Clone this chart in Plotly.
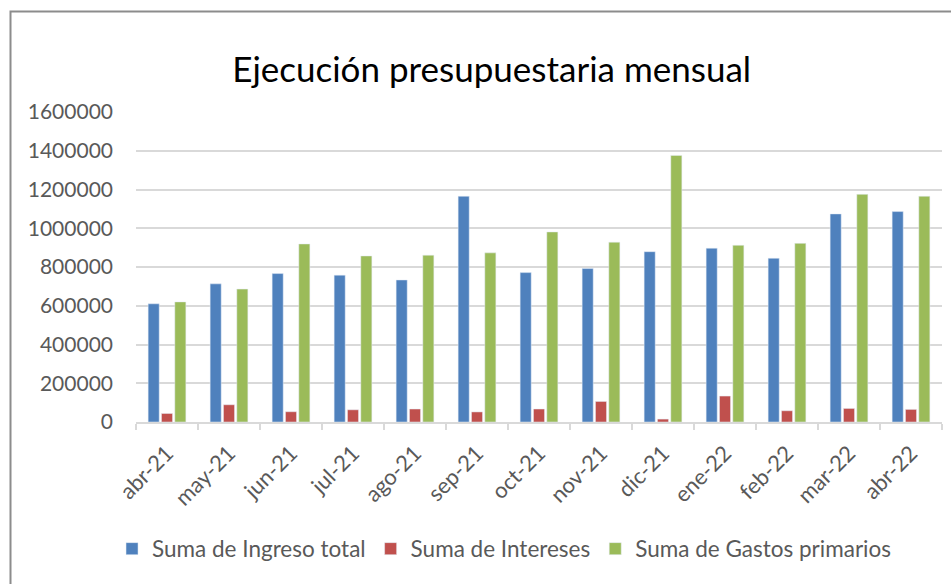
import plotly.graph_objects as go

months = ["abr-21", "may-21", "jun-21", "jul-21", "ago-21", "sep-21", "oct-21",
          "nov-21", "dic-21", "ene-22", "feb-22", "mar-22", "abr-22"]
ingreso_total = [610000, 713000, 766000, 758000, 733000, 1165000, 771000,
                 792000, 879000, 897000, 845000, 1074000, 1086000]
intereses = [44000, 89000, 53000, 63000, 67000, 52000, 67000,
             106000, 15000, 134000, 58000, 70000, 65000]
gastos_primarios = [620000, 686000, 919000, 857000, 861000, 873000, 981000,
                    928000, 1376000, 912000, 922000, 1175000, 1165000]
y_ticks = [0, 200000, 400000, 600000, 800000, 1000000, 1200000, 1400000, 1600000]

W, H = 951, 584
L, R, T, B = 136, 9, 112, 162
pw, ph = W - L - R, H - T - B

fig = go.Figure()
fig.add_trace(go.Bar(name="Suma de Ingreso total", x=months, y=ingreso_total,
                     marker_color="#4F81BD"))
fig.add_trace(go.Bar(name="Suma de Intereses", x=months, y=intereses,
                     marker_color="#C0504D"))
fig.add_trace(go.Bar(name="Suma de Gastos primarios", x=months, y=gastos_primarios,
                     marker_color="#9BBB59"))

font_family = "Lato, 'Open Sans', sans-serif"
fig.update_layout(
    width=W, height=H,
    margin=dict(l=L, r=R, t=T, b=B),
    paper_bgcolor="white", plot_bgcolor="white",
    barmode="group", bargap=0.355, bargroupgap=0.17,
    font=dict(family=font_family, color="#595959"),
    title=dict(text="Ejecución presupuestaria mensual", x=0.517, xref="container",
               xanchor="center", y=1 - 70 / H, yref="container", yanchor="middle",
               font=dict(size=35, color="#000000", family=font_family)),
    legend=dict(orientation="h", x=0.53, xanchor="center", xref="container",
                y=1 - 549 / H, yref="container", yanchor="middle",
                font=dict(size=22.5, color="#595959"), traceorder="normal"),
    xaxis=dict(showline=True, linecolor="#D9D9D9", linewidth=1.5,
               ticks="outside", tickson="boundaries", ticklen=6,
               tickcolor="#D9D9D9", tickwidth=1.5, tickangle=-45,
               tickfont=dict(size=22, color="#595959"), showgrid=False,
               ticklabelstandoff=8),
    yaxis=dict(range=[0, 1600000], tickvals=y_ticks,
               ticktext=[str(v) for v in y_ticks],
               showgrid=True, gridcolor="#D9D9D9", gridwidth=1.5,
               zeroline=False, showline=False,
               tickfont=dict(size=21, color="#595959"), ticklabelstandoff=22),
    shapes=[dict(type="rect", xref="paper", yref="paper",
                 x0=(10.5 - L) / pw, x1=(W + 20 - L) / pw,
                 y0=-(H + 20 - T - ph) / ph, y1=(H - B - 11.5) / ph,
                 line=dict(color="#8C8C8C", width=2), layer="below")],
)

fig.write_html("out.html", config={"displayModeBar": False})
with open("out.html", encoding="utf-8") as f:
    html = f.read()
html = html.replace("<body>", '<body style="margin:0;padding:0;overflow:hidden">', 1)
with open("out.html", "w", encoding="utf-8") as f:
    f.write(html)
